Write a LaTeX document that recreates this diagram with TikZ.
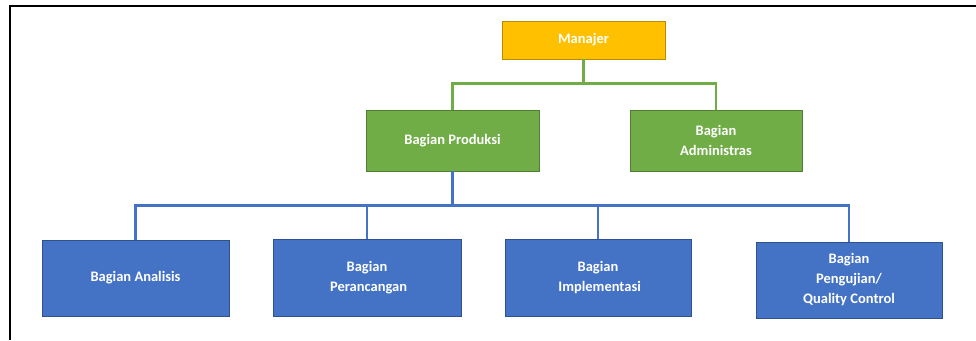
\documentclass[tikz,border=0pt]{standalone}
\usepackage{fontspec}
\setmainfont{Carlito}
\usepackage{xcolor}
\usepackage{tikz}
\usetikzlibrary{positioning, calc}

\definecolor{gold}{HTML}{FFC000}
\definecolor{golddark}{HTML}{BC8C00}
\definecolor{grn}{HTML}{70AD47}
\definecolor{grndark}{HTML}{507E32}
\definecolor{blu}{HTML}{4472C4}
\definecolor{bludark}{HTML}{2F528F}

\begin{document}
\begin{tikzpicture}[x=1pt, y=-1pt,
    unit/.style={rectangle, align=center, text=white, line width=0.8pt,
        font=\bfseries\fontsize{14.5}{20}\selectfont, inner sep=0pt},
    topunit/.style={unit, fill=gold, draw=golddark},
    midunit/.style={unit, fill=grn, draw=grndark},
    lowunit/.style={unit, fill=blu, draw=bludark},
    gline/.style={grn, line width=2.2pt},
    bline/.style={blu, line width=2.2pt}]
    \useasboundingbox (0,0) rectangle (976,340);
    % frame (only top and left visible)
    \draw[line width=2pt] (10,340) -- (10,5.5) -- (976,5.5);
    % struktur organisasi
    \node[topunit, minimum width=163pt, minimum height=38pt] (manajer) at (583.5,40) {Manajer};
    \node[midunit, minimum width=173pt, minimum height=61pt] (produksi) at (452.5,140.5) {Bagian Produksi};
    \node[midunit, minimum width=172pt, minimum height=61pt] (admin) at (716,140.5) {Bagian\\Administras};
    \node[lowunit, minimum width=187pt, minimum height=76pt] (analisis) at (135.5,278) {Bagian Analisis};
    \node[lowunit, minimum width=188pt, minimum height=77pt] (rancang) at (367,277.5) {Bagian\\ \ Perancangan};
    \node[lowunit, minimum width=186pt, minimum height=77pt] (implement) at (598,277.5) {Bagian\\ \ Implementasi};
    \node[lowunit, minimum width=186pt, minimum height=76pt] (uji) at (849,280) {Bagian\\Pengujian/\\Quality Control};
    % garis hubung
    \foreach \b in {produksi, admin} {
        \draw[gline] (manajer.south) -- ++(0,24) -| (\b.north);
    }
    \foreach \b in {analisis, rancang, implement, uji} {
        \draw[bline] (produksi.south) -- ++(0,34) -| (\b.north);
    }
\end{tikzpicture}
\end{document}
